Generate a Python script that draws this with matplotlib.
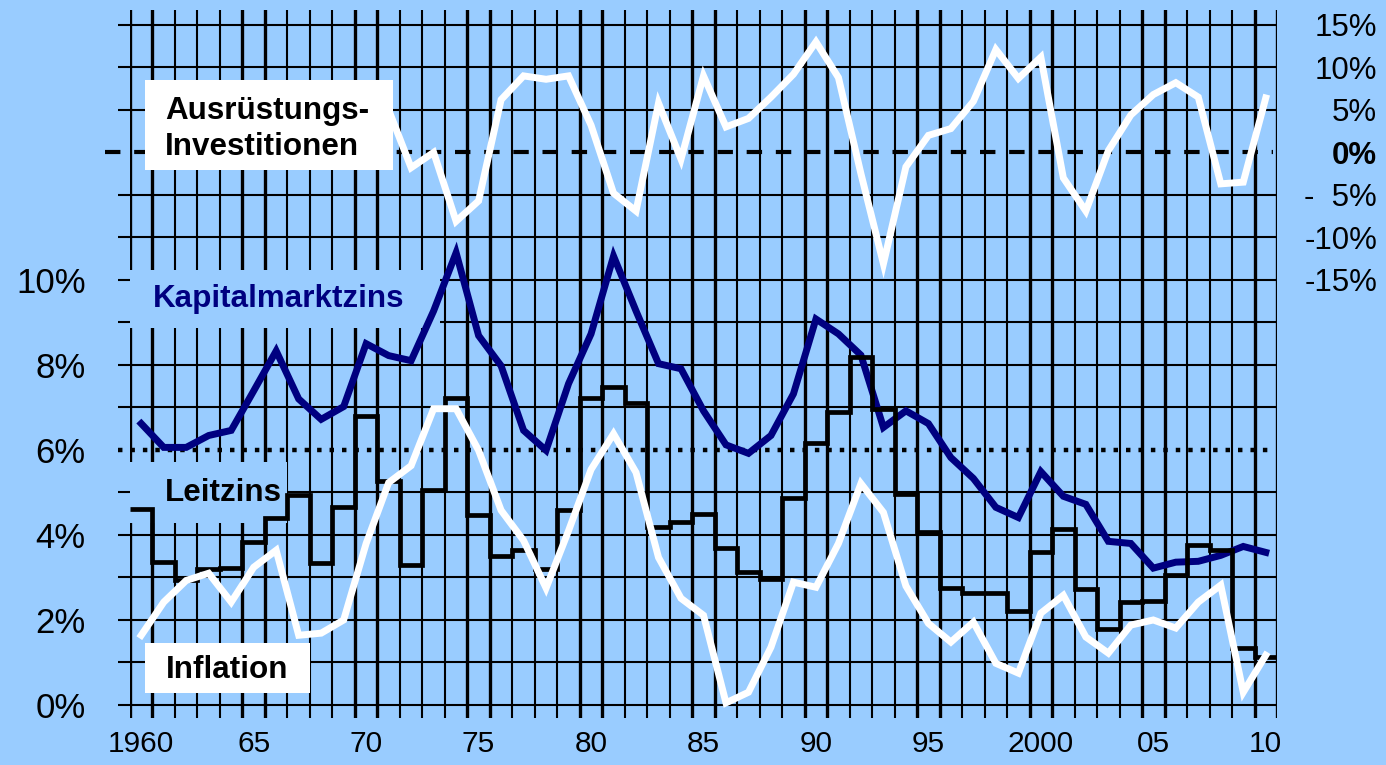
import numpy as np
import matplotlib.pyplot as plt
from matplotlib.patches import Rectangle

# --- data ---
years = np.arange(1960, 2011)

kapitalmarktzins = [6.62, 6.06, 6.06, 6.34, 6.46, 7.39, 8.33, 7.2, 6.72, 7.02,
                    8.5, 8.22, 8.1, 9.27, 10.64, 8.69, 7.98, 6.46, 5.99, 7.56,
                    8.73, 10.56, 9.27, 8.03, 7.91, 6.92, 6.12, 5.92, 6.34, 7.32,
                    9.08, 8.73, 8.23, 6.53, 6.92, 6.62, 5.82, 5.33, 4.65, 4.41,
                    5.49, 4.91, 4.72, 3.85, 3.8, 3.22, 3.36, 3.38, 3.52, 3.73,
                    3.59]

inflation = [1.64, 2.42, 2.93, 3.1, 2.42, 3.24, 3.64, 1.64, 1.69, 2.0,
             3.8, 5.23, 5.63, 6.97, 6.97, 5.99, 4.58, 3.87, 2.75, 4.1,
             5.54, 6.38, 5.47, 3.47, 2.51, 2.11, 0.05, 0.3, 1.36, 2.89,
             2.77, 3.8, 5.21, 4.53, 2.8, 1.92, 1.48, 1.95, 0.98, 0.75,
             2.16, 2.58, 1.6, 1.22, 1.88, 2.0, 1.81, 2.42, 2.82, 0.3,
             1.17]

leitzins = [4.62, 3.36, 2.93, 3.2, 3.22, 3.83, 4.41, 4.93, 3.33, 4.65,
            6.81, 5.28, 3.29, 5.05, 7.23, 4.46, 3.5, 3.64, 3.2, 4.58,
            7.23, 7.49, 7.11, 4.18, 4.3, 4.5, 3.69, 3.12, 2.96, 4.88,
            6.17, 6.9, 8.19, 6.97, 4.97, 4.06, 2.75, 2.63, 2.63, 2.21,
            3.59, 4.15, 2.72, 1.78, 2.42, 2.44, 3.05, 3.76, 3.64, 1.34,
            1.13]

invest_years = np.arange(1971, 2011)
ausruestung = [5.0, -1.8, 0.0, -8.1, -5.7, 6.2, 9.0, 8.6, 9.0, 3.2,
               -4.8, -6.9, 5.8, -0.8, 9.0, 3.0, 4.0, 6.5, 9.2, 13.0,
               8.8, -2.5, -13.1, -1.7, 2.0, 2.8, 6.0, 12.1, 8.7, 11.2,
               -3.0, -6.9, 0.2, 4.4, 6.8, 8.2, 6.5, -3.7, -3.5, 6.4]

left_ticks = [0, 2, 4, 6, 8, 10]
right_ticks = [-15, -10, -5, 0, 5, 10, 15]
right_labels = ['-15%', '-10%', '-  5%', '0%', '5%', '10%', '15%']
x_ticks = [1960, 1965, 1970, 1975, 1980, 1985, 1990, 1995, 2000, 2005, 2010]
x_labels = ['1960', '65', '70', '75', '80', '85', '90', '95', '2000', '05', '10']

bg = '#99CCFF'
navy = '#000080'
plt.rcParams['font.family'] = ['Liberation Sans', 'DejaVu Sans']

fig = plt.figure(figsize=(13.86, 7.65), dpi=100, facecolor=bg)
ax = fig.add_axes([130 / 1386, 1 - 718 / 765, 1147 / 1386, 708 / 765])
ax.set_facecolor(bg)
y0, y1 = -0.306, 16.35
ax.set_xlim(1959.5, 2010.5)
ax.set_ylim(y0, y1)
for s in ax.spines.values():
    s.set_visible(False)

# grid: year boundaries, thicker around the labelled years
edges = np.arange(1959.5, 2011.0, 1.0)
for b in edges:
    n = int(b - 0.5)
    lw = 2.4 if n % 5 in (0, 4) else 1.5
    ax.axvline(b, color='black', lw=lw, zorder=1)

x_left = 1959.5 - 12 / 22.5
for v in range(0, 17):
    if v in (6, 13):
        continue
    ax.plot([x_left, 2010.5], [v, v], color='black', lw=1.5, zorder=1,
            clip_on=False, solid_capstyle='butt')

ax.plot([1958.4, 2010.3], [13, 13], color='black', lw=3, dashes=(3.7, 3.3),
        dash_capstyle='butt', zorder=1, clip_on=False)
ax.plot([x_left, 2010.2], [6, 6], color='black', lw=3.2, dashes=(1.0, 1.8),
        dash_capstyle='butt', zorder=1, clip_on=False)

# label boxes
ax.add_patch(Rectangle((1960.17, 12.59), 11.02, 2.12, color='white', lw=0, zorder=2))
ax.add_patch(Rectangle((1959.5, 8.87), 13.78, 1.37, color=bg, lw=0, zorder=2))
ax.add_patch(Rectangle((1959.5, 4.28), 6.98, 1.44, color=bg, lw=0, zorder=2))
ax.add_patch(Rectangle((1960.17, 0.28), 7.33, 1.18, color='white', lw=0, zorder=2))

# series
ax.plot(years, kapitalmarktzins, color=navy, lw=5, zorder=3,
        solid_joinstyle='miter')
ax.stairs(leitzins, np.append(years - 0.5, years[-1] + 0.5), baseline=None,
          color='black', lw=3.4, zorder=4)
ax.plot(years, inflation, color='white', lw=5, zorder=5, solid_joinstyle='miter')

fs = 22.6
ax.text(1961.06, 13.55, 'Ausrüstungs-\nInvestitionen', fontsize=fs,
        fontweight='bold', va='center', ha='left', linespacing=1.28, zorder=6)
ax.text(1960.5, 9.55, 'Kapitalmarktzins', fontsize=fs, fontweight='bold',
        color=navy, va='center', ha='left', zorder=6)
ax.text(1961.06, 4.98, 'Leitzins', fontsize=fs, fontweight='bold',
        va='center', ha='left', zorder=6)
ax.text(1961.1, 0.82, 'Inflation', fontsize=fs, fontweight='bold',
        va='center', ha='left', zorder=6)

ax.set_yticks(left_ticks)
ax.set_yticklabels([f'{t}%' for t in left_ticks], fontsize=25)
ax.set_xticks(x_ticks)
ax.set_xticklabels(x_labels, fontsize=21.5)
ax.tick_params(axis='y', length=0, pad=32)
ax.tick_params(axis='x', length=0, pad=9)

# right axis: equipment investment (0% aligned with 13% on the left)
ax2 = ax.twinx()
ax2.set_ylim((y0 - 13) * 5, (y1 - 13) * 5)
for s in ax2.spines.values():
    s.set_visible(False)
ax2.plot(invest_years, ausruestung, color='white', lw=5, solid_joinstyle='miter')
ax2.set_yticks(right_ticks)
ax2.set_yticklabels(right_labels, fontsize=22.5, ha='right')
ax2.tick_params(axis='y', length=0, pad=72)
for lab in ax2.get_yticklabels():
    if lab.get_text() == '0%':
        lab.set_fontweight('bold')

fig.savefig('out.png', dpi=100, facecolor=bg)
